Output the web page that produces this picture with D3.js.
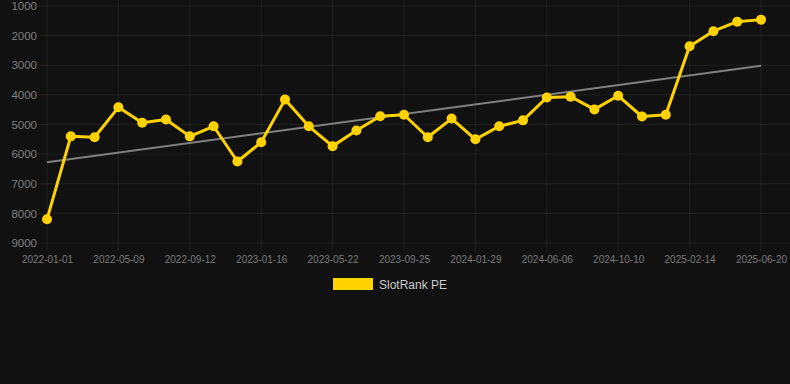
<!DOCTYPE html>
<html><head><meta charset="utf-8">
<script src="https://cdn.jsdelivr.net/npm/d3@7/dist/d3.min.js"></script>
<style>
html,body{margin:0;padding:0;background:#111111;}
svg{display:block;}
</style></head>
<body>
<svg id="chart" width="790" height="384"></svg>
<script>
const dates = ["2022-01-01","2022-02-12","2022-03-26","2022-05-09","2022-06-20","2022-08-01","2022-09-12","2022-10-24","2022-12-05","2023-01-16","2023-02-27","2023-04-10","2023-05-22","2023-07-03","2023-08-14","2023-09-25","2023-11-06","2023-12-18","2024-01-29","2024-03-12","2024-04-24","2024-06-06","2024-07-18","2024-08-29","2024-10-10","2024-11-21","2025-01-02","2025-02-14","2025-03-28","2025-05-09","2025-06-20"];
const rankValues = [8200,5400,5430,4420,4940,4830,5400,5060,6250,5600,4160,5060,5730,5200,4720,4670,5430,4800,5500,5060,4860,4090,4060,4490,4030,4730,4670,2360,1850,1530,1460];
const xTickLabels = ["2022-01-01","2022-05-09","2022-09-12","2023-01-16","2023-05-22","2023-09-25","2024-01-29","2024-06-06","2024-10-10","2025-02-14","2025-06-20"];
const yTicks = [1000,2000,3000,4000,5000,6000,7000,8000,9000];
const seriesName = "SlotRank PE";

const svg = d3.select("#chart");
const plotL = 47, plotR = 761, plotT = 6, plotB = 243;
const x = d3.scalePoint().domain(dates).range([plotL, plotR]);
const y = d3.scaleLinear().domain([1000, 9000]).range([plotT, plotB]);
const gridColor = "rgba(255,255,255,0.065)";
const font = "'Liberation Sans', Arial, Helvetica, sans-serif";

// horizontal grid
svg.append("g").selectAll("line").data(yTicks).join("line")
  .attr("x1", 39).attr("x2", 790)
  .attr("y1", d => y(d)).attr("y2", d => y(d))
  .attr("stroke", gridColor).attr("stroke-width", 1);
// vertical grid
svg.append("g").selectAll("line").data(xTickLabels).join("line")
  .attr("x1", d => x(d)).attr("x2", d => x(d))
  .attr("y1", 0).attr("y2", plotB + 8)
  .attr("stroke", gridColor).attr("stroke-width", 1);

// y axis
const yAxis = d3.axisLeft(y).tickValues(yTicks).tickSize(0).tickPadding(0).tickFormat(d3.format("d"));
const gy = svg.append("g").attr("transform", "translate(37,0)").call(yAxis);
gy.select(".domain").remove();
gy.selectAll("text").attr("fill", "#808080").attr("font-size", "11.5px").attr("font-family", font);

// x axis
const xAxis = d3.axisBottom(x).tickValues(xTickLabels).tickSize(0).tickPadding(0);
const gx = svg.append("g").attr("transform", `translate(0,${plotB + 12.5})`).call(xAxis);
gx.select(".domain").remove();
gx.selectAll("text").attr("fill", "#7a7a7a").attr("font-size", "10px").attr("font-family", font);

// trend line (least squares)
const n = rankValues.length;
const idx = d3.range(n);
const mx = d3.mean(idx), my = d3.mean(rankValues);
const slope = d3.sum(idx, i => (i - mx) * (rankValues[i] - my)) / d3.sum(idx, i => (i - mx) ** 2);
const icpt = my - slope * mx;
svg.append("line")
  .attr("x1", x(dates[0])).attr("y1", y(icpt))
  .attr("x2", x(dates[n - 1])).attr("y2", y(icpt + slope * (n - 1)))
  .attr("stroke", "#808080").attr("stroke-width", 2);

// series line
const yellow = "#FFD200";
const line = d3.line().x((d, i) => x(dates[i])).y(d => y(d));
svg.append("path").datum(rankValues)
  .attr("d", line).attr("fill", "none")
  .attr("stroke", yellow).attr("stroke-width", 3).attr("stroke-linejoin", "round");
svg.append("g").selectAll("circle").data(rankValues).join("circle")
  .attr("cx", (d, i) => x(dates[i])).attr("cy", d => y(d)).attr("r", 5)
  .attr("fill", yellow);

// legend
const lg = svg.append("g");
lg.append("rect").attr("x", 333).attr("y", 278).attr("width", 40).attr("height", 12).attr("fill", yellow);
lg.append("text").attr("x", 379).attr("y", 288.5).text(seriesName)
  .attr("fill", "#cccccc").attr("font-size", "12px").attr("font-family", font);
</script>
</body></html>
